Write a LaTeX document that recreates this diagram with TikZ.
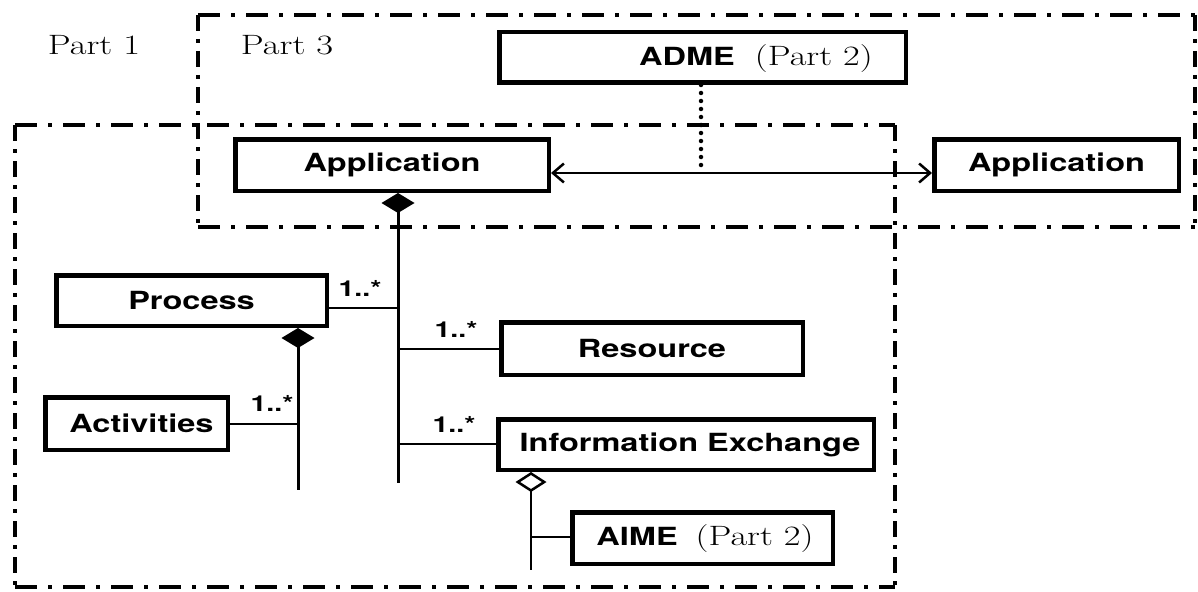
\documentclass[tikz,border=0pt]{standalone}
\usepackage{fontspec}
\usepackage{graphicx}
\setsansfont{TeX Gyre Heros}
\usetikzlibrary{arrows.meta,calc}
\newcommand{\sfx}[1]{\scalebox{1.3}[1]{\fontsize{25}{28}\selectfont\sffamily\bfseries #1}}
\newcommand{\rmx}[1]{\scalebox{1.3}[1]{\fontsize{28}{30}\selectfont\rmfamily #1}}
\newcommand{\mlt}[1]{\scalebox{1.3}[1]{\fontsize{22}{24}\selectfont\sffamily\bfseries #1}}
\tikzset{
  umlbox/.style={draw, line width=4.5pt, rectangle, inner sep=0pt, fill=white},
  hdd/.style={line width=3.5pt, dash pattern=on 22pt off 11pt on 4pt off 11pt},
  vdd/.style={line width=3.5pt, dash pattern=on 16pt off 8pt on 4pt off 8pt},
  conn/.style={line width=2pt},
  spine/.style={line width=3pt},
  mult/.style={inner sep=0pt},
  parttext/.style={inner sep=0pt}
}
\begin{document}
\begin{tikzpicture}[x=1pt,y=-1pt]
\useasboundingbox (0,0) rectangle (1198,591);
% Part 3 frame
\draw[hdd] (198,15) -- (1196,15);
\draw[vdd] (1195,15) -- (1195,227);
\draw[hdd] (198,227) -- (1196,227);
\draw[vdd] (198,15) -- (198,227);
% Part 1 frame
\draw[hdd] (15,125) -- (895,125);
\draw[vdd] (895,125) -- (895,588);
\draw[hdd] (15,587) -- (895,587);
\draw[vdd] (15,125) -- (15,588);

\node[parttext] (p1) at (94,45) {\rmx{Part 1}};
\node[parttext] (p3) at (287,45) {\rmx{Part 3}};

% boxes
\node[umlbox, minimum width=406.5pt, minimum height=50.5pt] (adme) at (702.5,57.5) {};
\node[parttext] (admet) at (756,59) {\sfx{ADME}\hspace{20pt}\rmx{(Part 2)}};
\node[umlbox, minimum width=313.5pt, minimum height=51.5pt] (appl) at (392,165) {\sfx{Application}};
\node[umlbox, minimum width=244.5pt, minimum height=51.5pt] (appr) at (1056.5,165) {\sfx{Application}};
\node[umlbox, minimum width=270.5pt, minimum height=50.5pt] (proc) at (191.5,300.5) {\sfx{Process}};
\node[umlbox, minimum width=301.5pt, minimum height=52.5pt] (res) at (652,348.5) {\sfx{Resource}};
\node[umlbox, minimum width=375.5pt, minimum height=50.5pt] (ie) at (686,444.5) {\hspace{8pt}\sfx{Information Exchange}};
\node[umlbox, minimum width=260.5pt, minimum height=51.5pt] (aime) at (702.5,538) {};
\node[parttext] (aimet) at (705,539) {\sfx{AIME}\hspace{18pt}\rmx{(Part 2)}};
\node[umlbox, minimum width=182.5pt, minimum height=52.5pt] (act) at (136.5,423.5) {\hspace{10pt}\sfx{Activities}};

% association arrow between applications
\coordinate (al) at (551,173);
\coordinate (ar) at (932,173);
\draw[line width=2.5pt, {Straight Barb[length=11pt,width=19pt]}-{Straight Barb[length=11pt,width=19pt]}] (appl.east |- al) -- (appr.west |- ar);
% dotted link from ADME
\coordinate (dotend) at (701,167);
\draw[line width=4.5pt, line cap=round, dash pattern=on 0pt off 8pt] (adme.south -| dotend) -- (dotend);

% main composition spine
\coordinate (mainend) at (398,483);
\draw[spine, {Diamond[length=20pt,width=33pt]}-] (appl.south -| mainend) -- (mainend);
\coordinate (j1) at (398,308);
\coordinate (j2) at (398,349);
\coordinate (j3) at (398,444);
\draw[conn] (proc.east |- j1) -- (j1);
\draw[conn] (j2) -- (res.west |- j2);
\draw[conn] (j3) -- (ie.west |- j3);
\node[mult] (m1) at (360,288) {\mlt{1..*}};
\node[mult] (m2) at (456,329) {\mlt{1..*}};
\node[mult] (m3) at (454,424) {\mlt{1..*}};

% process composition
\coordinate (pend) at (298,490);
\draw[spine, {Diamond[length=20pt,width=33pt]}-] (proc.south -| pend) -- (pend);
\coordinate (j4) at (298,424);
\draw[conn] (act.east |- j4) -- (j4);
\node[mult] (m4) at (272,403) {\mlt{1..*}};

% information exchange aggregation
\coordinate (iend) at (531,570);
\draw[line width=2.5pt, {Diamond[open,length=20pt,width=31pt,line width=2.5pt]}-] (ie.south -| iend) -- (iend);
\coordinate (j5) at (531,537);
\draw[conn] (j5) -- (aime.west |- j5);
\end{tikzpicture}
\end{document}
